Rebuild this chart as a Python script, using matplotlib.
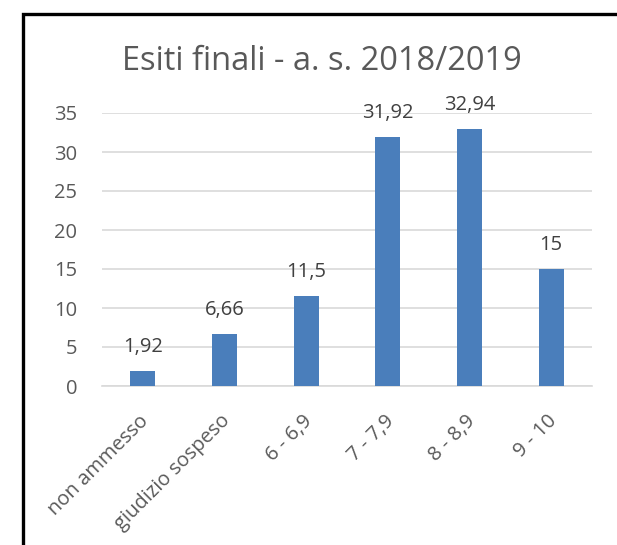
import matplotlib
matplotlib.use("Agg")
import matplotlib.pyplot as plt
from matplotlib.patches import Rectangle

categories = ["non ammesso", "giudizio sospeso", "6 - 6,9", "7 - 7,9", "8 - 8,9", "9 - 10"]
values = [1.92, 6.66, 11.5, 31.92, 32.94, 15]
value_labels = ["1,92", "6,66", "11,5", "31,92", "32,94", "15"]
yticks = [0, 5, 10, 15, 20, 25, 30, 35]

plt.rcParams['font.family'] = ['Open Sans', 'DejaVu Sans']
text_color = "#595959"
bar_color = "#4a7ebb"

W, H = 617, 545
fig = plt.figure(figsize=(W / 100, H / 100), dpi=100)
fig.patch.set_facecolor("white")

ax = fig.add_axes([102 / W, 1 - 386 / H, (592 - 102) / W, (386 - 113) / H])
x = list(range(len(categories)))
ax.bar(x, values, width=0.31, color=bar_color, zorder=3)
ax.set_xlim(-0.5, len(categories) - 0.5)
ax.set_ylim(0, 35)
ax.set_yticks(yticks)
ax.set_yticklabels([str(t) for t in yticks], fontsize=14.5, color=text_color)
ax.yaxis.grid(True, color="#d9d9d9", linewidth=1.2, zorder=0)
ax.set_axisbelow(True)
for s in ["top", "right", "left"]:
    ax.spines[s].set_visible(False)
ax.spines["bottom"].set_color("#d9d9d9")
ax.spines["bottom"].set_linewidth(1.2)
ax.tick_params(axis="both", length=0)
ax.tick_params(axis="y", pad=18)
ax.set_xticks(x)
ax.set_xticklabels(categories, rotation=45, ha="right", va="top",
                   rotation_mode="anchor", fontsize=14.5, color=text_color)
for lbl in ax.get_xticklabels():
    lbl.set_transform(lbl.get_transform() + matplotlib.transforms.ScaledTranslation(-4 / 100, -20 / 100, fig.dpi_scale_trans))

for xi, v, lab in zip(x, values, value_labels):
    ax.annotate(lab, (xi, v), xytext=(0, 10), textcoords="offset points",
                ha="center", va="bottom", fontsize=14.5, color="#404040", clip_on=False)

fig.text(322 / W, 1 - 62 / H, "Esiti finali - a. s. 2018/2019", ha="center", va="center",
         fontsize=23.5, color=text_color)

rect = Rectangle((23 / W, -0.2), 2.0, (1 - 14 / H) + 0.2, transform=fig.transFigure,
                 fill=False, edgecolor="black", linewidth=2.4, clip_on=False)
fig.add_artist(rect)

fig.savefig("out.png", dpi=100, facecolor="white")
